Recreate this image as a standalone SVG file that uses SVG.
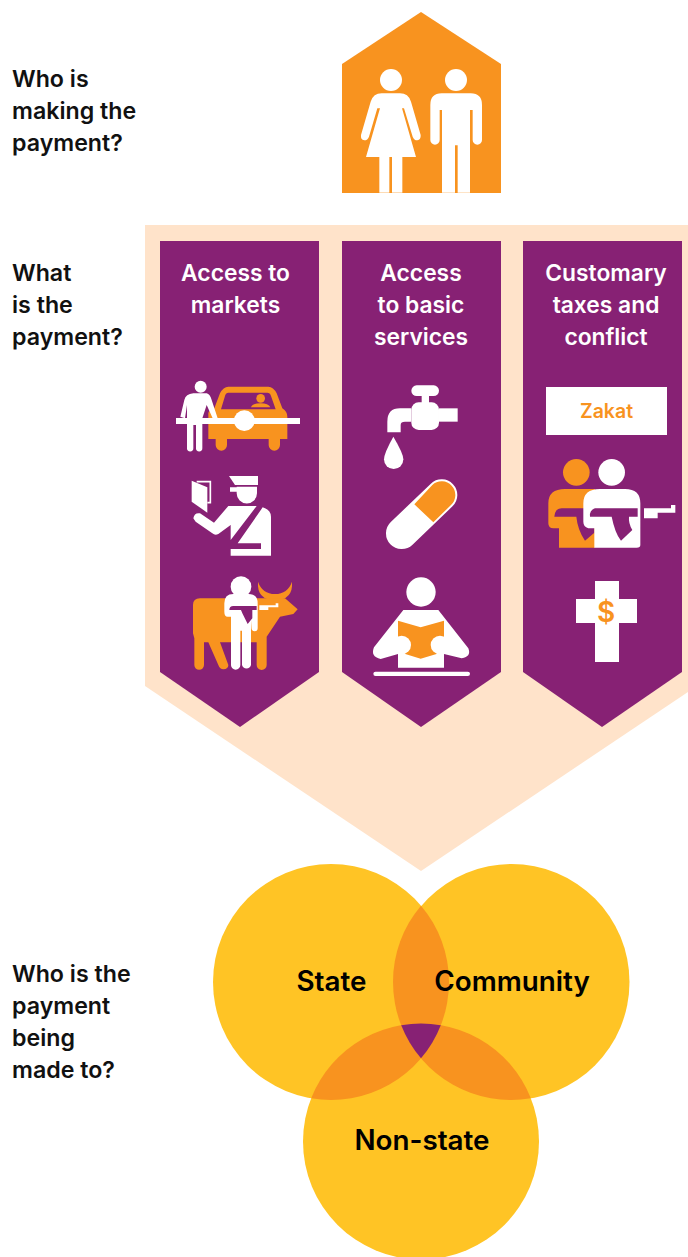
<svg xmlns="http://www.w3.org/2000/svg" width="688" height="1257" viewBox="0 0 688 1257">
<style>
.o{fill:#F8931F}.w{fill:#fff}.p{fill:#872174}.y{fill:#FFC425}
text{font-family:"Inter","Liberation Sans",sans-serif;font-weight:600}
.q{font-size:23.200px;fill:#111}
.t{font-size:22.800px;fill:#fff;text-anchor:middle}
.v{font-size:27.800px;fill:#000;text-anchor:middle}
</style>
<rect width="688" height="1257" fill="#fff"/>
<g id="question-labels">
<text class="q" x="12" y="87">Who is</text><text class="q" x="12" y="119">making the</text><text class="q" x="12" y="151">payment?</text>
<text class="q" x="12" y="281">What</text><text class="q" x="12" y="313">is the</text><text class="q" x="12" y="345">payment?</text>
<text class="q" x="12" y="982">Who is the</text><text class="q" x="12" y="1014">payment</text><text class="q" x="12" y="1046">being</text><text class="q" x="12" y="1078">made to?</text>
</g>
<g id="house">
<path class="o" d="M421 12L501 64V193H342V64Z"/>
<g transform="translate(340 0) scale(.33333)" class="w">
<circle cx="153" cy="240" r="33"/>
<path d="M125 280H180Q205 280 213 305L242 405Q243 420 232 421Q222 421 218 410L192 325H186L228 471H78L120 325H112L87 410Q83 421 73 421Q61 420 63 405L92 305Q100 280 125 280Z"/>
<rect x="118" y="471" width="30" height="107"/><rect x="156" y="471" width="31" height="107"/>
<circle cx="348" cy="240" r="33"/>
<path d="M305 280H392Q426 280 426 315V420a14 14 0 0 1-28 0V330H390V578H353V436H345V578H306V330H299V420a14 14 0 0 1-28 0V315Q271 280 305 280Z"/>
</g>
</g>
<path id="payment-band" fill="#FFE3CA" d="M145 225H688V692L421 871L145 686Z"/>
<g id="access-to-markets">
<path class="p" d="M160 241H319V672L240 727L160 672Z"/>
<text class="t" x="235.500" y="281">Access to</text><text class="t" x="235.500" y="313">markets</text>
<g transform="translate(165 370) scale(.33333)">
<path class="o" d="M190 50H310Q325 50 335 70L352 115Q367 125 367 140V207H345V225a17 17 0 0 1-34 0V207H186V225a17 17 0 0 1-34 0V207H130V130Q130 122 148 115L165 70Q175 50 190 50Z"/>
<path class="p" d="M190 68H307Q315 68 318 78L332 118H168L180 78Q183 68 190 68Z"/>
<circle class="o" cx="287" cy="85" r="13"/><path class="o" d="M258 112Q262 100 287 100Q310 100 316 112Z"/>
<circle class="w" cx="107" cy="50" r="18"/>
<path class="w" d="M85 70H125Q135 72 140 90L158 145H143L125 105L112 145V235a9.500 9.500 0 0 1-19 0V165H85V235a9.500 9.500 0 0 1-19 0V145V105L60 145L46 140L58 90Q62 72 85 70Z"/>
<rect class="w" x="33" y="144" width="372" height="18"/><circle class="w" cx="238" cy="152" r="31"/>
<path class="w" d="M80 332L127 352V428L80 395Z"/><path d="M95 335H136V398H127" fill="none" stroke="#fff" stroke-width="5"/>
<path class="w" d="M192 318H279V345H210Z"/><path class="w" d="M195 352H215V350H276V370a30.500 30.500 0 0 1-61 0V365H195Z"/>
<path class="w" d="M85 445Q88 427 105 430L147 458L190 408H275L197 510V465L160 492Q150 497 142 490L92 455Z"/>
<path class="w" d="M293 412Q318 420 318 440V557H197V537H288V520H218Z"/>
<path class="o" d="M279 635Q275 690 330 690Q385 690 381 635Q368 672 330 672Q292 672 279 635Z"/>
<path class="o" d="M105 685H360L398 718L385 732L345 740L305 800V885a15 15 0 0 1-30 0V817H165L190 885Q190 897 175 898Q165 898 160 885L130 817H117V885a14.500 14.500 0 0 1-29 0V805L84 790V705Q84 685 105 685Z"/>
<circle class="w" cx="228" cy="650" r="31"/>
<path class="w" d="M205 672H250Q278 672 278 700V775a9 9 0 0 1-18 0V750L258 782V885a14 14 0 0 1-27 0V782H226V885a14 14 0 0 1-28 0V740H188Q178 740 178 725V700Q178 672 205 672Z"/>
<path class="p" d="M205 708H275V720H262V745L248 762L232 730L228 720H193Q193 708 205 708Z"/>
<path class="w" d="M283 706H332V700H340V712H310V720H283Z"/>
</g>
</g>
<g id="access-to-basic-services">
<path class="p" d="M342 241H501V672L421 727L342 672Z"/>
<text class="t" x="421" y="281">Access</text><text class="t" x="421" y="313">to basic</text><text class="t" x="421" y="345">services</text>
<g transform="translate(360 370) scale(.33333)">
<g class="w">
<rect x="154" y="46" width="83" height="32" rx="16"/><rect x="185" y="78" width="22" height="22"/><rect x="154" y="97" width="83" height="83" rx="22"/>
<path d="M154 115H120Q82 115 82 155V187H122V165Q122 155 135 155H154Z"/><rect x="237" y="115" width="56" height="40"/>
<path d="M100 200Q72 250 72 268a29 29 0 0 0 58 0Q130 250 100 200Z"/>
</g>
<path d="M125 490L245 375" fill="none" stroke="#fff" stroke-width="94" stroke-linecap="round"/>
<path class="o" d="M163 403L217 345A41 41 0 0 1 273 405L220 457Z"/>
<circle class="w" cx="183" cy="666" r="44"/>
<path class="w" d="M130 720H235L325 835Q335 860 305 865L252 852V893H114V852L62 867Q30 860 42 832Z"/>
<path class="o" d="M114 752L182 772L252 752V845L182 866L114 845Z"/>
<circle class="w" cx="125" cy="825" r="28"/><circle class="w" cx="240" cy="825" r="28"/>
<rect class="w" x="40" y="905" width="290" height="13" rx="6.500"/>
</g>
</g>
<g id="customary-taxes-and-conflict">
<path class="p" d="M523 241H682V672L602 727L523 672Z"/>
<text class="t" x="606" y="281">Customary</text><text class="t" x="606" y="313">taxes and</text><text class="t" x="606" y="345">conflict</text>
<rect class="w" x="546" y="387" width="121" height="48"/>
<text x="606.500" y="418" font-size="19.500" class="o" text-anchor="middle">Zakat</text>
<g transform="translate(535 370) scale(.33333)">
<circle class="o" cx="124" cy="307" r="40"/>
<path class="o" d="M90 357H180V533H72V475H55Q40 475 40 460V400Q40 357 90 357Z"/>
<path class="p" d="M58 440Q60 415 80 415H180V440H124Q128 480 150 512L178 488V440Z"/>
<circle class="w" cx="230" cy="307" r="40"/>
<path class="w" d="M195 357H270Q316 357 316 400V525Q316 533 305 533H178V475H160Q145 470 145 455V400Q145 357 195 357Z"/>
<path class="p" d="M165 440Q163 420 180 415H308V440H282Q280 460 292 480L258 512Q240 490 230 440Z"/>
<path class="w" d="M327 415H408V405H421V428H368V445H327Z"/>
<rect class="w" x="180" y="633" width="72" height="243"/><rect class="w" x="123" y="687" width="183" height="72"/>
</g>
<text x="606" y="622" font-size="28" class="o" text-anchor="middle">$</text>
</g>
<g id="venn">
<g id="state"><circle class="y" cx="331" cy="982" r="118"/></g>
<g id="community"><circle class="y" cx="511.500" cy="982" r="118"/></g>
<g id="non-state"><circle class="y" cx="421" cy="1141.500" r="118"/></g>
<path class="o" d="M421 905.700A118 118 0 0 1 421 1058.300A118 118 0 0 1 421 905.700Z"/>
<path class="o" d="M311.200 1098.300A118 118 0 0 1 440.800 1025.200A118 118 0 0 1 311.200 1098.300Z"/>
<path class="o" d="M401.200 1025.200A118 118 0 0 1 530.800 1098.300A118 118 0 0 1 401.200 1025.200Z"/>
<path class="p" d="M401.200 1025.200A118 118 0 0 1 440.800 1025.200A118 118 0 0 1 421 1058.300A118 118 0 0 1 401.200 1025.200Z"/>
<text class="v" x="331.500" y="991">State</text><text class="v" x="512" y="991">Community</text><text class="v" x="422" y="1150">Non-state</text>
</g>
</svg>
